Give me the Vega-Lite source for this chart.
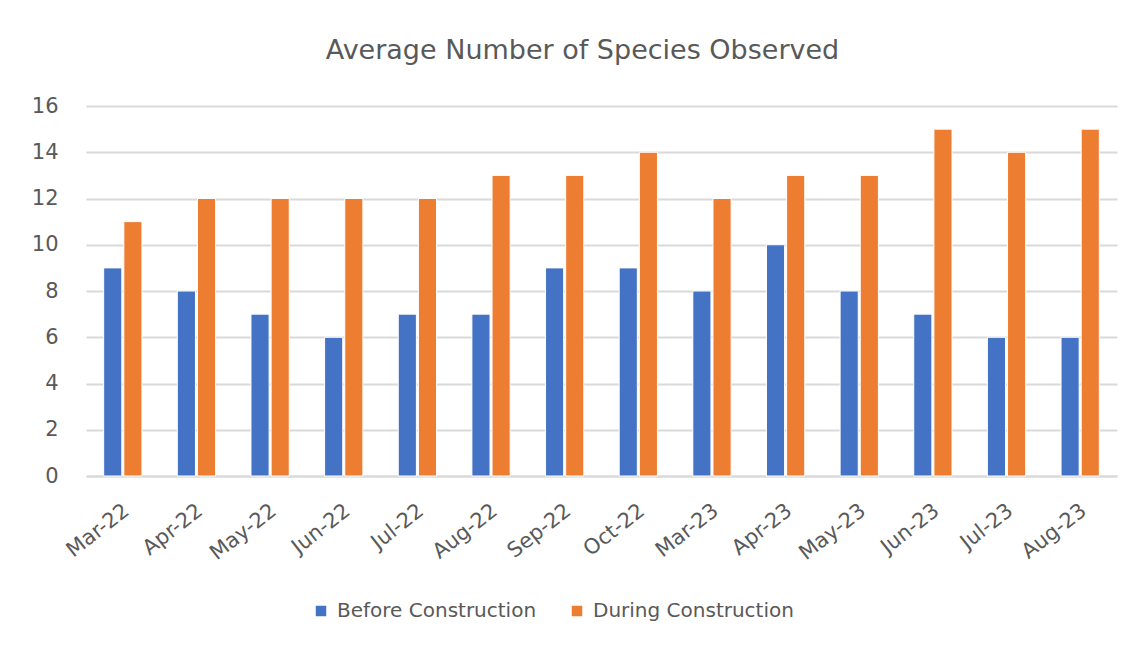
{
  "$schema": "https://vega.github.io/schema/vega-lite/v6.json",
  "autosize": "none",
  "width": 1031,
  "height": 370,
  "padding": {"left": 86, "top": 106, "right": 29, "bottom": 174},
  "background": "white",
  "title": {
    "text": "Average Number of Species Observed",
    "fontSize": 27,
    "font": "DejaVu Sans",
    "fontWeight": "normal",
    "color": "#595959",
    "offset": 30,
    "dx": -19
  },
  "data": {
    "values": [
      {"month": "Mar-22", "series": "Before Construction", "value": 9},
      {"month": "Apr-22", "series": "Before Construction", "value": 8},
      {"month": "May-22", "series": "Before Construction", "value": 7},
      {"month": "Jun-22", "series": "Before Construction", "value": 6},
      {"month": "Jul-22", "series": "Before Construction", "value": 7},
      {"month": "Aug-22", "series": "Before Construction", "value": 7},
      {"month": "Sep-22", "series": "Before Construction", "value": 9},
      {"month": "Oct-22", "series": "Before Construction", "value": 9},
      {"month": "Mar-23", "series": "Before Construction", "value": 8},
      {"month": "Apr-23", "series": "Before Construction", "value": 10},
      {"month": "May-23", "series": "Before Construction", "value": 8},
      {"month": "Jun-23", "series": "Before Construction", "value": 7},
      {"month": "Jul-23", "series": "Before Construction", "value": 6},
      {"month": "Aug-23", "series": "Before Construction", "value": 6},
      {"month": "Mar-22", "series": "During Construction", "value": 11},
      {"month": "Apr-22", "series": "During Construction", "value": 12},
      {"month": "May-22", "series": "During Construction", "value": 12},
      {"month": "Jun-22", "series": "During Construction", "value": 12},
      {"month": "Jul-22", "series": "During Construction", "value": 12},
      {"month": "Aug-22", "series": "During Construction", "value": 13},
      {"month": "Sep-22", "series": "During Construction", "value": 13},
      {"month": "Oct-22", "series": "During Construction", "value": 14},
      {"month": "Mar-23", "series": "During Construction", "value": 12},
      {"month": "Apr-23", "series": "During Construction", "value": 13},
      {"month": "May-23", "series": "During Construction", "value": 13},
      {"month": "Jun-23", "series": "During Construction", "value": 15},
      {"month": "Jul-23", "series": "During Construction", "value": 14},
      {"month": "Aug-23", "series": "During Construction", "value": 15}
    ]
  },
  "mark": {"type": "bar", "stroke": "white", "strokeWidth": 1},
  "encoding": {
    "x": {
      "field": "month",
      "type": "nominal",
      "sort": null,
      "scale": {"paddingInner": 0.48, "paddingOuter": 0.24},
      "axis": {
        "title": null,
        "labelAngle": -38,
        "labelAlign": "right",
        "labelBaseline": "middle",
        "labelPadding": 32,
        "labelOffset": 4,
        "labelFontSize": 21,
        "labelFont": "DejaVu Sans",
        "labelColor": "#595959",
        "labelLimit": 0,
        "ticks": false,
        "domain": true,
        "domainColor": "#d9d9d9",
        "domainWidth": 2,
        "grid": false
      }
    },
    "xOffset": {
      "field": "series",
      "type": "nominal",
      "scale": {"paddingInner": 0.1}
    },
    "y": {
      "field": "value",
      "type": "quantitative",
      "scale": {"domain": [0, 16], "nice": false},
      "axis": {
        "title": null,
        "values": [0, 2, 4, 6, 8, 10, 12, 14, 16],
        "labelFontSize": 21,
        "labelFont": "DejaVu Sans",
        "labelColor": "#595959",
        "labelPadding": 28,
        "ticks": false,
        "domain": false,
        "grid": true,
        "gridColor": "#d9d9d9",
        "gridWidth": 2
      }
    },
    "color": {
      "field": "series",
      "type": "nominal",
      "scale": {"domain": ["Before Construction", "During Construction"], "range": ["#4472C4", "#ED7D31"]},
      "legend": {
        "title": null,
        "orient": "none",
        "direction": "horizontal",
        "legendX": 225,
        "legendY": 495,
        "symbolType": "square",
        "symbolSize": 110,
        "symbolStrokeWidth": 0,
        "labelFontSize": 20,
        "labelFont": "DejaVu Sans",
        "labelColor": "#595959",
        "labelLimit": 0,
        "columnPadding": 30,
        "labelOffset": 6
      }
    }
  },
  "config": {"view": {"stroke": null}}
}
